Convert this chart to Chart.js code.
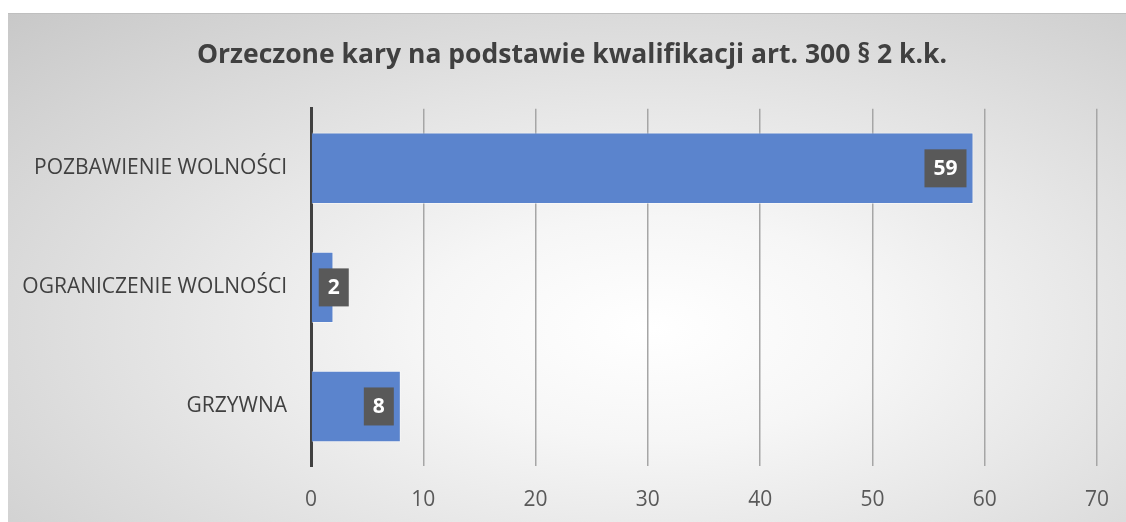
<!DOCTYPE html>
<html>
<head>
<meta charset="utf-8">
<script src="https://cdn.jsdelivr.net/npm/chart.js@4"></script>
<style>
  html, body { margin: 0; padding: 0; background: #fff; overflow: hidden; width: 1126px; height: 522px; }
  #box {
    position: absolute; left: 8px; top: 13px; width: 1128px; height: 509px;
    border-top: 1px solid #bfbfbf; box-sizing: border-box;
    background: radial-gradient(ellipse farthest-corner at 57% 62%, #ffffff 0%, #f6f6f6 25%, #c8c8c8 100%);
  }
  canvas { display: block; }
</style>
</head>
<body>
<div id="box"><canvas id="chart" width="1128" height="508"></canvas></div>
<script>
var categories = ["POZBAWIENIE WOLNOŚCI", "OGRANICZENIE WOLNOŚCI", "GRZYWNA"];
var values = [59, 2, 8];
var titleText = "Orzeczone kary na podstawie kwalifikacji art. 300 § 2 k.k.";

// label boxes drawn at the end of each bar, like Excel's "inside end"
var barLabels = {
  id: 'barLabels',
  afterDatasetsDraw: function (chart) {
    var ctx = chart.ctx;
    var meta = chart.getDatasetMeta(0);
    ctx.save();
    ctx.font = 'bold 21px "Open Sans"';
    ctx.textAlign = 'center';
    ctx.textBaseline = 'middle';
    meta.data.forEach(function (bar, i) {
      var txt = String(values[i]);
      var w = ctx.measureText(txt).width + 18;
      var h = 38;
      var right = Math.max(bar.x - 7, bar.base + 7 + w);
      ctx.fillStyle = '#595959';
      ctx.fillRect(right - w, bar.y - h / 2, w, h);
      ctx.fillStyle = '#ffffff';
      ctx.fillText(txt, right - w / 2, bar.y + 1);
    });
    ctx.restore();
  }
};

new Chart(document.getElementById('chart'), {
  type: 'bar',
  data: {
    labels: categories,
    datasets: [{
      data: values,
      backgroundColor: '#5b84cd',
      borderColor: 'rgba(255,255,255,0.45)',
      borderWidth: 1,
      categoryPercentage: 1,
      barPercentage: 0.6
    }]
  },
  options: {
    indexAxis: 'y',
    responsive: false,
    animation: false,
    layout: { padding: 0 },
    plugins: {
      legend: { display: false },
      tooltip: { enabled: false },
      title: {
        display: true,
        text: titleText,
        color: '#404040',
        font: { family: 'Open Sans', size: 26.5, weight: 'bold' },
        padding: { top: 26, bottom: 37 }
      }
    },
    scales: {
      x: {
        min: 0, max: 70,
        ticks: { stepSize: 10, color: '#595959', font: { family: 'Open Sans', size: 21 }, padding: 21 },
        grid: { color: '#a6a6a6', lineWidth: 1.5, drawTicks: false },
        border: { display: false },
        afterFit: function (s) { s.height = 56; s.paddingLeft = 0; s.paddingRight = 39; }
      },
      y: {
        ticks: { color: '#404040', font: { family: 'Open Sans', size: 21 }, padding: 24 },
        grid: { display: false, drawTicks: false },
        border: { color: '#404040', width: 3 },
        afterFit: function (s) { s.width = 303; }
      }
    }
  },
  plugins: [barLabels]
});
</script>
</body>
</html>
